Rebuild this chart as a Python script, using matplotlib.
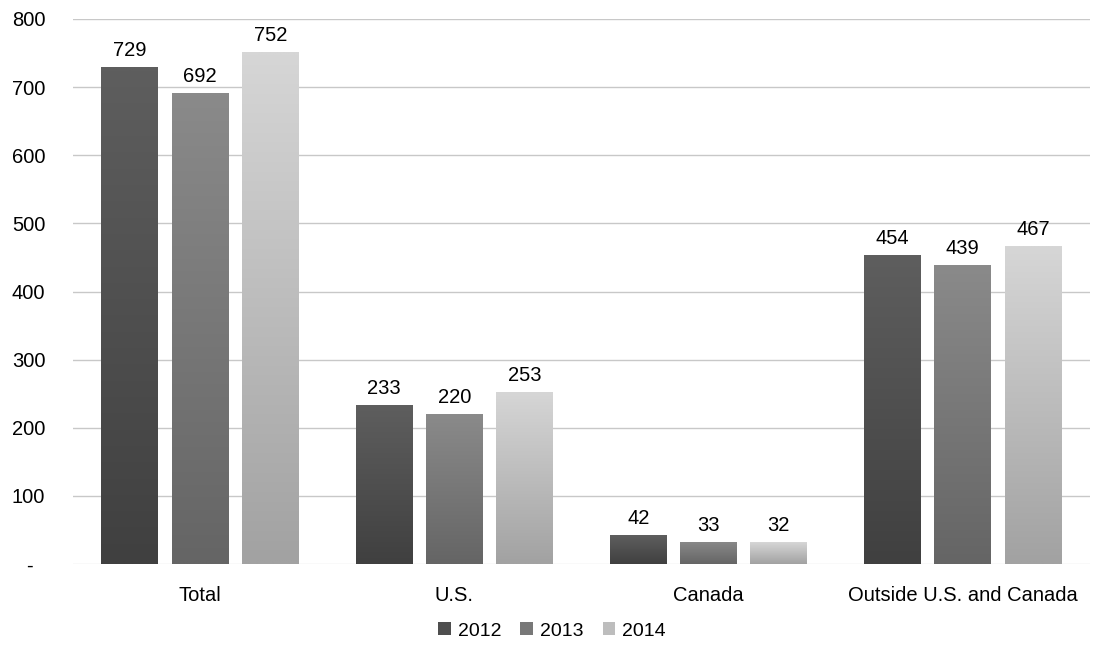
import numpy as np
import matplotlib.pyplot as plt
from matplotlib.patches import Patch
from matplotlib.colors import to_rgb

categories = ['Total', 'U.S.', 'Canada', 'Outside U.S. and Canada']
years = ['2012', '2013', '2014']
v2012 = [729, 233, 42, 454]
v2013 = [692, 220, 33, 439]
v2014 = [752, 253, 32, 467]
yticks = [0, 100, 200, 300, 400, 500, 600, 700, 800]
ytick_labels = ['-  ', '100', '200', '300', '400', '500', '600', '700', '800']

plt.rcParams['font.family'] = ['Liberation Sans', 'DejaVu Sans']

# (top colour, bottom colour) of each series gradient
grads = [('#5e5e5e', '#404040'), ('#8a8a8a', '#656565'), ('#d6d6d6', '#a2a2a2')]
legend_cols = ['#4e4e4e', '#787878', '#bdbdbd']

fig = plt.figure(figsize=(10.99, 6.52), dpi=100)
ax = fig.add_axes([73 / 1099, 1 - 564 / 652, 1017 / 1099, 545 / 652])

x = np.arange(len(categories))
w = 0.224
pitch = 0.276
series = [v2012, v2013, v2014]

for i, vals in enumerate(series):
    pos = x + (i - 1) * pitch
    bars = ax.bar(pos, vals, width=w, color='none', edgecolor='none', zorder=3)
    top = np.array(to_rgb(grads[i][0]))
    bot = np.array(to_rgb(grads[i][1]))
    t = np.linspace(0, 1, 64)[:, None]
    img = (top * (1 - t) + bot * t)[:, None, :]
    for b in bars:
        x0, h = b.get_x(), b.get_height()
        im = ax.imshow(img, extent=[x0, x0 + w, 0, h], aspect='auto',
                       origin='upper', zorder=3, interpolation='bilinear')
        im.set_clip_path(b)
    ax.bar_label(bars, labels=[str(v) for v in vals], padding=5, fontsize=14.5, color='#000000')

ax.set_xlim(-0.5, 3.5)
ax.set_ylim(0, 800)
ax.set_yticks(yticks)
ax.set_yticklabels(ytick_labels, fontsize=14.5)
ax.set_xticks(x)
ax.set_xticklabels(categories, fontsize=14.5)
ax.tick_params(axis='x', length=0, pad=16)
ax.tick_params(axis='y', length=0, pad=20)
for s in ax.spines.values():
    s.set_visible(False)
for yv in yticks[1:]:
    ax.axhline(yv, color='#c8c8c8', lw=1, zorder=1)
ax.axhline(0, color='#e4e4e4', lw=1, zorder=1)

handles = [Patch(facecolor=c, edgecolor='none') for c in legend_cols]
fig.legend(handles, years, loc='center', bbox_to_anchor=(552 / 1099, 1 - 631 / 652),
           ncol=3, frameon=False, fontsize=14, handlelength=0.65, handleheight=0.65,
           handletextpad=0.35, columnspacing=1.0)

fig.savefig('out.png', dpi=100)
